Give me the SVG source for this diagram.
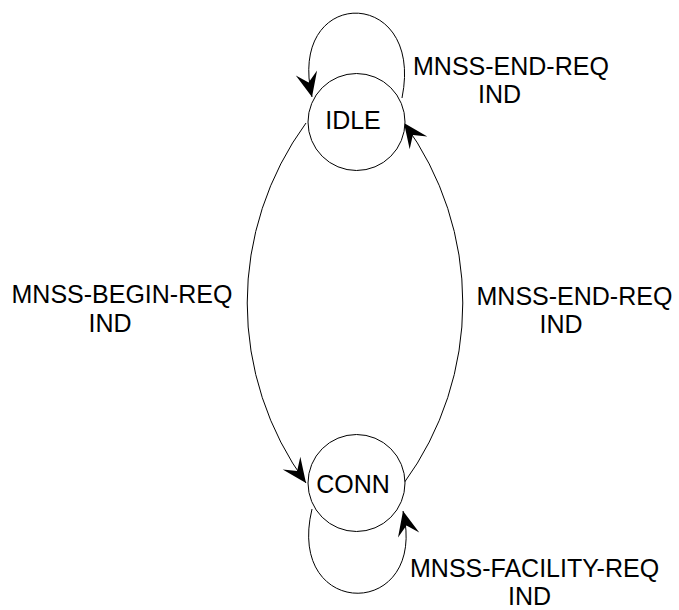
<svg xmlns="http://www.w3.org/2000/svg" width="679" height="610" viewBox="0 0 679 610">
<defs>
<marker id="arr" markerUnits="userSpaceOnUse" markerWidth="30" markerHeight="30" viewBox="-20 -10 22 20" refX="0" refY="0" orient="auto" overflow="visible">
<path d="M0,0 L-18,-8 L-11,0 L-18,8 Z" fill="#000"/>
</marker>
<style>
.node circle{fill:#fff;stroke:#000;stroke-width:1}
.node text{font-family:"Liberation Sans",Arial,sans-serif;font-size:25px;text-anchor:middle;fill:#000}
.edge{fill:none;stroke:#000;stroke-width:1;marker-end:url(#arr)}
.lbl{font-family:"Liberation Sans",Arial,sans-serif;font-size:25px;fill:#000}
</style>
</defs>
<rect width="679" height="610" fill="#fff"/>
<g id="connectors">
<path class="edge" d="M402,98 C425,-15 286,-15 312,97"/>
<path class="edge" d="M306,123 A305 305 0 0 0 306,483"/>
<path class="edge" d="M404,483 A305 305 0 0 0 404,123"/>
<path class="edge" d="M312,509 C285,621 429,621 403,511"/>
</g>
<g id="node-idle" class="node">
<circle cx="356.5" cy="122" r="48.5"/>
<text x="353" y="129">IDLE</text>
</g>
<g id="node-conn" class="node">
<circle cx="356.5" cy="483" r="48.5"/>
<text x="353" y="492.5">CONN</text>
</g>
<g id="labels">
<text class="lbl" x="413" y="75">MNSS-END-REQ</text>
<text class="lbl" x="478" y="103">IND</text>
<text class="lbl" x="11.5" y="303">MNSS-BEGIN-REQ</text>
<text class="lbl" x="88.5" y="332">IND</text>
<text class="lbl" x="476.5" y="305">MNSS-END-REQ</text>
<text class="lbl" x="539.5" y="333">IND</text>
<text class="lbl" x="410" y="577">MNSS-FACILITY-REQ</text>
<text class="lbl" x="508" y="605">IND</text>
</g>
</svg>
